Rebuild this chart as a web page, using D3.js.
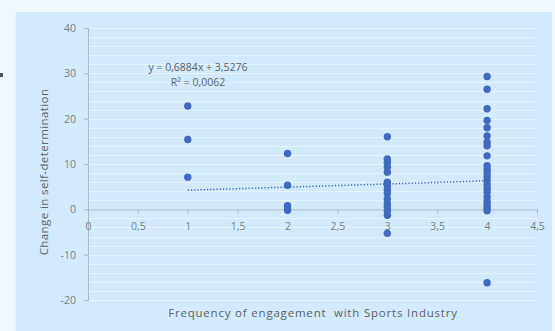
<!DOCTYPE html>
<html>
<head>
<meta charset="utf-8">
<script src="https://cdn.jsdelivr.net/npm/d3@7"></script>
<style>
  html, body { margin: 0; padding: 0; background: #eef8fe; }
  svg { display: block; }
  text { font-family: "Open Sans", "Noto Sans", sans-serif; }
</style>
</head>
<body>
<svg id="chart" width="555" height="331"></svg>
<script>
// Frequency of engagement (x) and change in self-determination (y), one entry per respondent
const freq1 = [22.8, 15.4, 7.1];
const freq2 = [12.3, 5.3, 0.8, 0.3, -0.2];
const freq3 = [16, 11.1, 10.3, 9.3, 8.2, 6.0, 5.2, 4.3, 3.5, 2.3, 1.3, 0.5, -0.3, -1.3, -5.3];
const freq4 = [29.3, 26.5, 22.2, 19.6, 18.0, 16.2, 14.8, 14.0, 11.8, 9.6, 8.8, 8.0, 7.2, 6.3, 5.5, 4.6, 3.8, 2.8, 1.8, 1.0, 0.3, -0.3, -16.2];
const groups = [[1, freq1], [2, freq2], [3, freq3], [4, freq4]];

// Linear trend line reported for the series
const slope = 0.6884;
const intercept = 3.5276;
const trendRange = [1, 4];
const equationLines = ["y = 0,6884x + 3,5276", "R\u00b2 = 0,0062"];

const xTicks = [0, 0.5, 1, 1.5, 2, 2.5, 3, 3.5, 4, 4.5];
const yTicks = [-20, -10, 0, 10, 20, 30, 40];

const xTitle = "Frequency of engagement  with Sports Industry";
const yTitle = "Change in self-determination";

const points = groups.flatMap(([f, vals]) => vals.map(v => ({ x: f, y: v })));

const svg = d3.select("#chart");

// chart panel
svg.append("rect").attr("x", 15).attr("y", 12).attr("width", 537).attr("height", 319)
  .attr("fill", "#d2eafb");
svg.append("line").attr("x1", 15.5).attr("x2", 15.5).attr("y1", 12).attr("y2", 331)
  .attr("stroke", "#e4f3fd").attr("stroke-width", 1.5);

// small mark at the far left edge
svg.append("rect").attr("x", 0).attr("y", 73).attr("width", 3).attr("height", 4).attr("fill", "#4a5560");

const x = d3.scaleLinear().domain([0, 4.5]).range([88, 537]);
const y = d3.scaleLinear().domain([-20, 40]).range([300, 28]);

// light horizontal gridlines
const gridVals = d3.range(-20, 40.1, 2);
svg.append("g").selectAll("line").data(gridVals).join("line")
  .attr("x1", x(0)).attr("x2", x(4.5))
  .attr("y1", d => Math.round(y(d)) + 0.5).attr("y2", d => Math.round(y(d)) + 0.5)
  .attr("stroke", "#e6f4fd").attr("stroke-width", 1);

// y axis
const yAxis = d3.axisLeft(y).tickValues(yTicks).tickSize(4).tickPadding(8)
  .tickFormat(d => d3.format("d")(d).replace("\u2212", "-"));
const gy = svg.append("g").attr("transform", `translate(${x(0)},0)`).call(yAxis);
gy.select(".domain").attr("stroke", "#a9b8c4");
gy.selectAll(".tick line").attr("stroke", "#a9b8c4");
gy.selectAll(".tick text").attr("fill", "#7a7f85").attr("font-size", 10.5);

// x axis through y = 0
const xAxis = d3.axisBottom(x).tickValues(xTicks).tickSize(4).tickPadding(9)
  .tickFormat(d => String(d).replace(".", ","));
const gx = svg.append("g").attr("transform", `translate(0,${y(0)})`).call(xAxis);
gx.select(".domain").attr("stroke", "#a9b8c4");
gx.selectAll(".tick line").attr("stroke", "#a9b8c4");
gx.selectAll(".tick text").attr("fill", "#7a7f85").attr("font-size", 10.5);

// trend line
svg.append("line")
  .attr("x1", x(trendRange[0])).attr("y1", y(slope * trendRange[0] + intercept))
  .attr("x2", x(trendRange[1])).attr("y2", y(slope * trendRange[1] + intercept))
  .attr("stroke", "#3c64b4").attr("stroke-width", 1.5).attr("stroke-dasharray", "1.2,2");

// points
svg.append("g").selectAll("circle").data(points).join("circle")
  .attr("cx", d => x(d.x)).attr("cy", d => y(d.y)).attr("r", 3.7)
  .attr("fill", "#4169be");

// trend equation
svg.append("g").selectAll("text").data(equationLines).join("text")
  .attr("x", 198).attr("y", (d, i) => 71 + i * 15)
  .attr("text-anchor", "middle").attr("fill", "#5f6368").attr("font-size", 10.5)
  .text(d => d);

// axis titles
svg.append("text").attr("x", 313).attr("y", 317).attr("text-anchor", "middle")
  .attr("fill", "#5f6368").attr("font-size", 11.5).attr("letter-spacing", 0.8)
  .style("white-space", "pre").text(xTitle);
svg.append("text").attr("transform", "translate(48,172) rotate(-90)")
  .attr("text-anchor", "middle").attr("fill", "#5f6368").attr("font-size", 11.5)
  .attr("letter-spacing", 0.4).text(yTitle);
</script>
</body>
</html>
